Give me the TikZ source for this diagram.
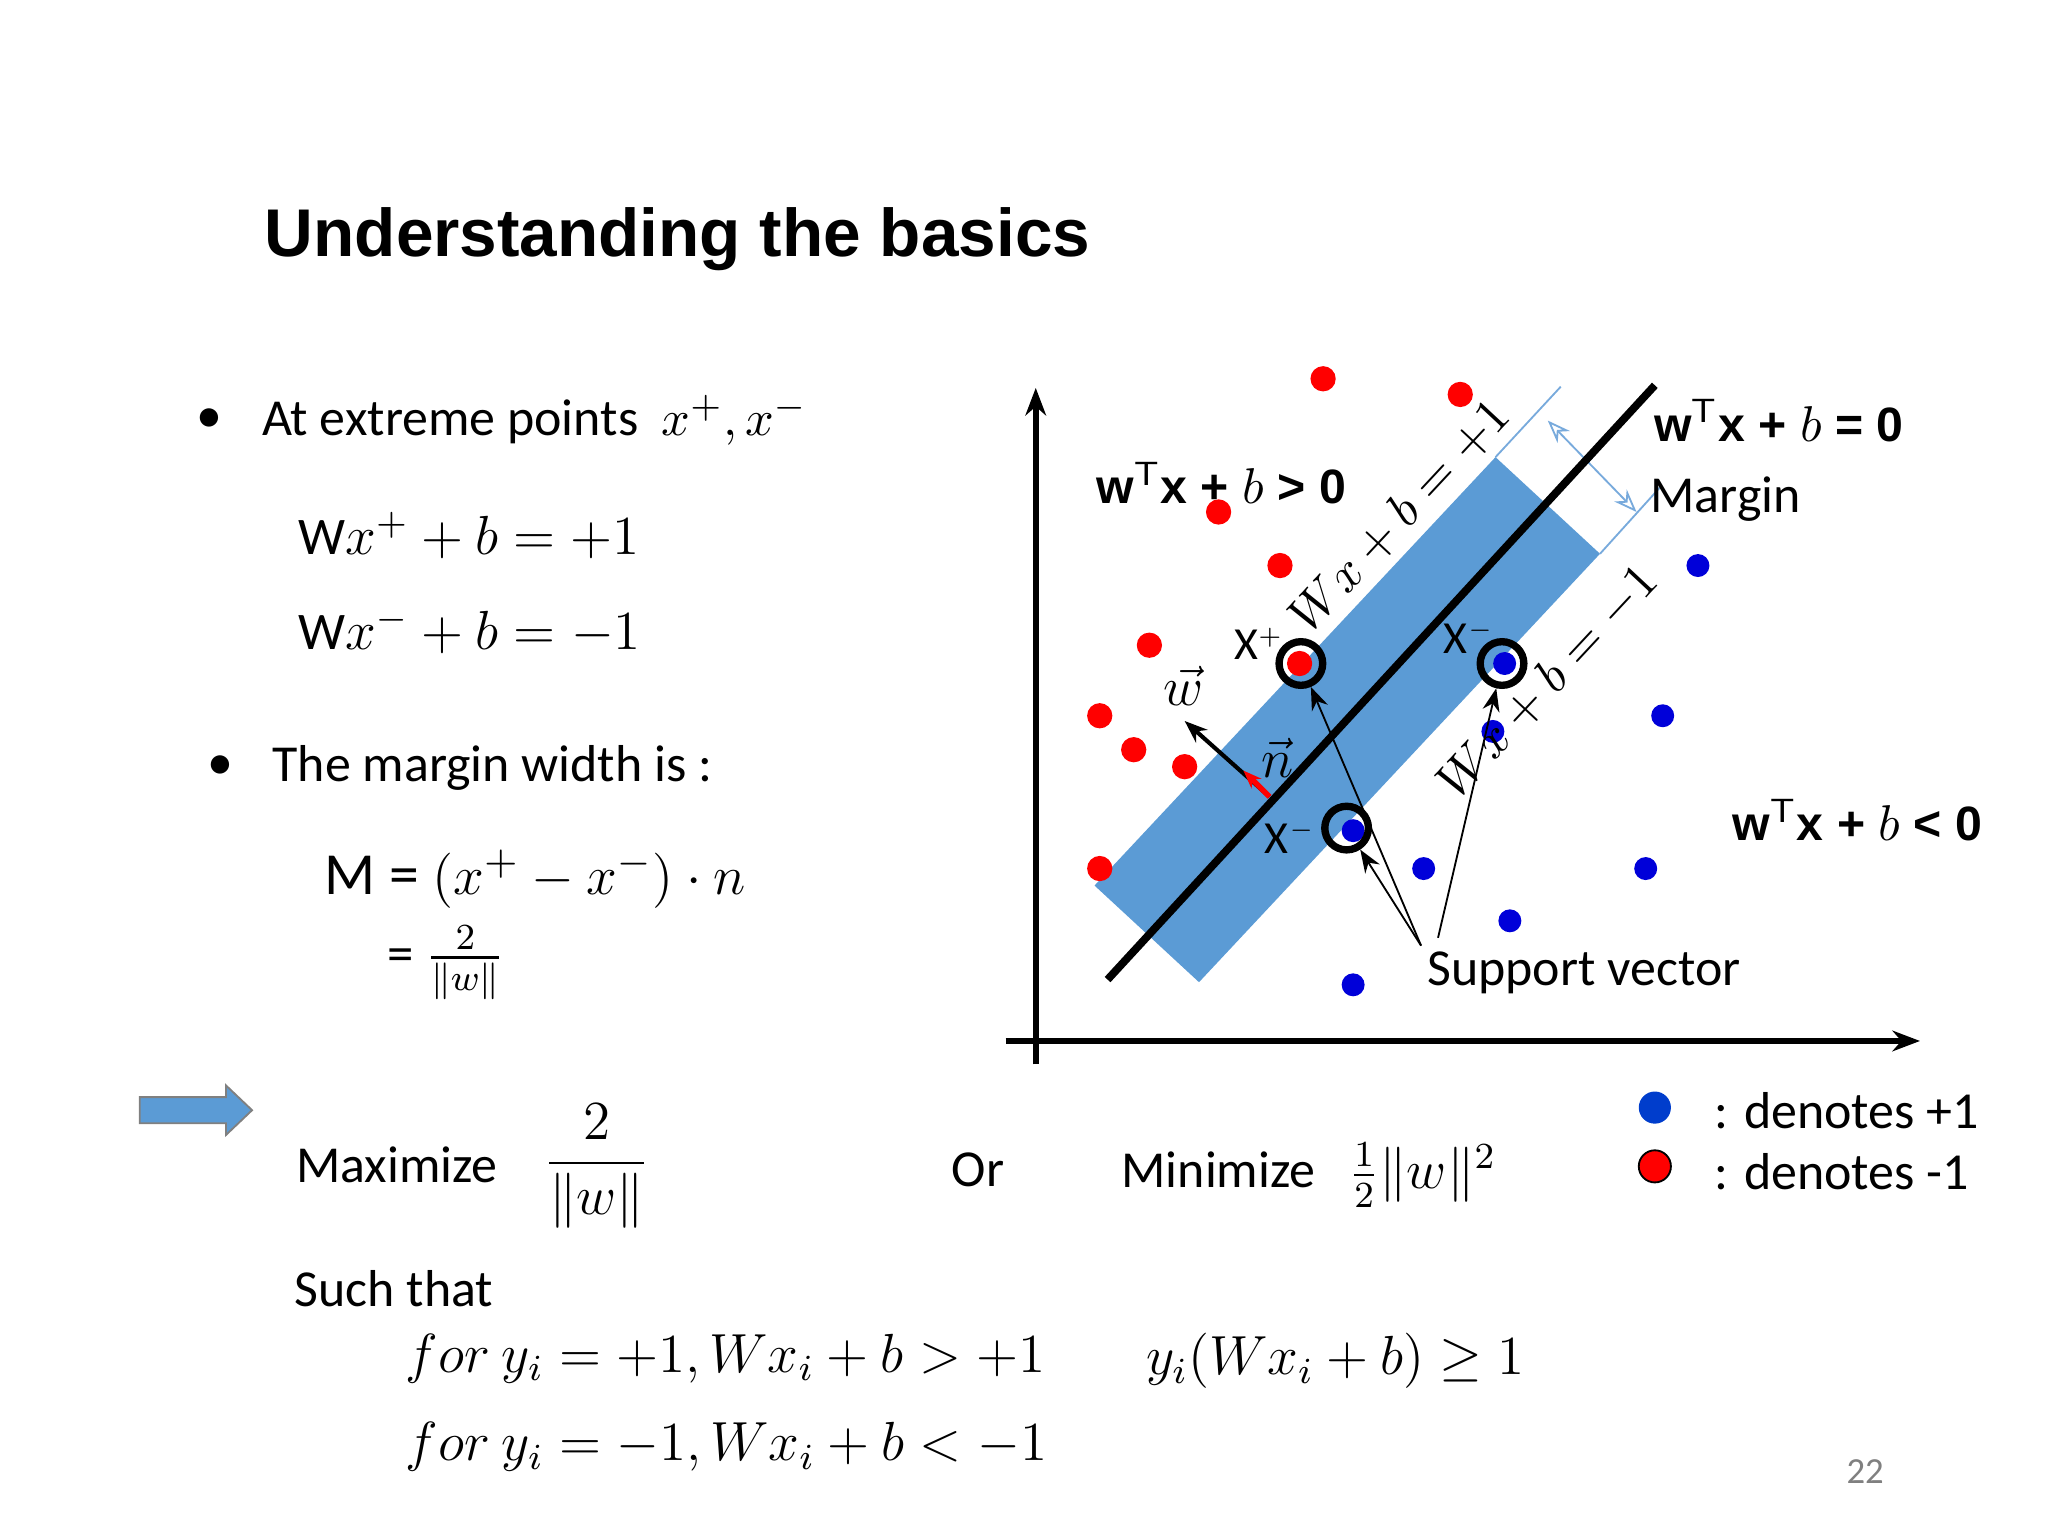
\documentclass[tikz,border=0pt]{standalone}
\usepackage{fontspec}
\usepackage{amsmath}
\setmainfont{Carlito}
\newfontfamily\arialf{Liberation Sans}
\usetikzlibrary{arrows.meta}
\definecolor{band}{RGB}{91,155,213}
\definecolor{bandline}{RGB}{120,170,220}
\tikzset{
 txt/.style={anchor=west,inner sep=0pt,font=\fontsize{11.3}{13}\selectfont},
 mth/.style={anchor=west,inner sep=0pt,font=\fontsize{11.5}{13}\selectfont},
 lbl/.style={inner sep=0pt,font=\arialf\bfseries\fontsize{10.5}{12}\selectfont},
 rdot/.style={circle,fill=red,inner sep=0pt,minimum size=5.5pt},
 bdot/.style={circle,fill=blue!85!black,inner sep=0pt,minimum size=5pt},
 sv/.style={circle,draw,line width=1.6pt,inner sep=0pt,minimum size=9.5pt},
 arr/.style={-{Stealth[length=5pt]},thin},
 xl/.style={inner sep=0pt,font=\fontsize{10}{12}\selectfont}
}
\begin{document}
\begin{tikzpicture}[x=0.01cm,y=-0.01cm]
\useasboundingbox (0,0) rectangle (1568,1176);
\node[anchor=west,inner sep=0pt,font=\arialf\bfseries\fontsize{14.7}{18}\selectfont] (title) at (202,183) {Understanding the basics};
% left column
\node[txt] (b1) at (150,322) {\textbullet};
\node[txt] (t1) at (200,322) {At extreme points\ \ $x^{+},x^{-}$};
\node[mth] (e1) at (228,410) {W$x^{+}+b=+1$};
\node[mth] (e2) at (228,483) {W$x^{-}+b=-1$};
\node[txt] (b2) at (158,588) {\textbullet};
\node[txt] (t2) at (208,588) {The margin width is :};
\node[mth,font=\fontsize{13}{15}\selectfont] (m1) at (248,673) {M = $(x^{+}-x^{-})\cdot n$};
\node[mth] (m2) at (296,737) {= $\tfrac{2}{\|w\|}$};
\coordinate (ba) at (107,850);
\fill[band,draw=black!50] (107,840) -- (173,840) -- (173,831) -- (193,850) -- (173,869) -- (173,860) -- (107,860) -- cycle;
\node[txt] (max) at (226,892) {Maximize};
\node[mth,anchor=center,font=\fontsize{13}{15}\selectfont] (f1) at (457,893) {$\dfrac{2}{\|w\|}$};
\node[txt] (or) at (728,896) {Or};
\node[txt] (min) at (858,896) {Minimize};
\node[mth] (f2) at (1032,900) {$\frac{1}{2}\|w\|^2$};
\node[txt] (st) at (225,987) {Such that};
\node[mth] (c1) at (310,1040) {$for\ y_i=+1, Wx_i+b>+1$};
\node[mth] (c2) at (310,1108) {$for\ y_i=-1, Wx_i+b<-1$};
\node[mth] (c3) at (877,1042) {$y_i(Wx_i+b)\geq 1$};
\node[inner sep=0pt,text=gray,font=\fontsize{8}{10}\selectfont] (pg) at (1428,1127) {22};
% legend
\node[circle,fill=blue!70!cyan!80!black,inner sep=0pt,minimum size=7pt] (lb) at (1267,848) {};
\node[circle,fill=red,draw=black,inner sep=0pt,minimum size=7pt] (lr) at (1267,893) {};
\node[txt] (lt1) at (1312,850) {: denotes +1};
\node[txt] (lt2) at (1312,897) {: denotes -1};
% diagram
\coordinate (yb) at (793,815); \coordinate (yt) at (793,297);
\coordinate (xl) at (770,797); \coordinate (xr) at (1470,797);
\draw[line width=1.3pt,-{Stealth[length=6pt]}] (yb) -- (yt);
\draw[line width=1.3pt,-{Stealth[length=6pt]}] (xl) -- (xr);
\coordinate (c1) at (838,678); \coordinate (c2) at (918,752);
\coordinate (c3) at (1225,424); \coordinate (c4) at (1145,350);
\fill[band] (c1) -- (c2) -- (c3) -- (c4) -- cycle;
\coordinate (t1) at (1195,296); \coordinate (t2) at (1272,372);
\draw[bandline,thin] (c4) -- (t1);
\draw[bandline,thin] (c3) -- (t2);
\draw[bandline,{Stealth[length=5pt,open]}-{Stealth[length=5pt,open]}] (1185,322) -- (1253,392);
\coordinate (h1) at (848,750); \coordinate (h2) at (1267,295);
\draw[line width=1.7pt] (h1) -- (h2);
\foreach \p [count=\i] in {(1013,290),(1118,302),(933,392),(980,433),(880,494),(842,548),(868,574),(907,587),(842,665),(995,508)}
  \node[rdot] (r\i) at \p {};
\foreach \p [count=\i] in {(1300,433),(1273,548),(1152,508),(1143,560),(1036,636),(1090,665),(1260,665),(1156,705),(1036,754)}
  \node[bdot] (bl\i) at \p {};
\node[sv] (s1) at (996,508) {};
\node[sv] (s2) at (1150,508) {};
\node[sv] (s3) at (1031,634) {};
\node[lbl] (L0) at (1362,322) {w$^{\mathsf T}$x + $b$ = 0};
\node[lbl] (L1) at (935,370) {w$^{\mathsf T}$x + $b$ > 0};
\node[lbl] (L2) at (1422,628) {w$^{\mathsf T}$x + $b$ < 0};
\node[txt] (mg) at (1263,382) {Margin};
\node[mth,anchor=center,rotate=47,font=\fontsize{10.5}{12}\selectfont] (p1) at (1072,395) {$Wx+b=+1$};
\node[mth,anchor=center,rotate=47,font=\fontsize{10.5}{12}\selectfont] (p2) at (1185,522) {$Wx+b=-1$};
\node[xl] (xp) at (964,493) {X$^{\scriptscriptstyle +}$};
\node[xl] (xm1) at (1125,488) {X$^{\scriptscriptstyle -}$};
\node[xl] (xm2) at (988,641) {X$^{\scriptscriptstyle -}$};
\coordinate (w0) at (972,610); \coordinate (w1) at (907,552); \coordinate (n1) at (952,590);
\draw[arr,line width=0.9pt] (w0) -- (w1);
\draw[-{Stealth[length=4pt]},red,line width=1.2pt] (w0) -- (n1);
\node[mth,anchor=center] (wl) at (906,525) {$\vec w$};
\node[mth,anchor=center] (nl) at (978,580) {$\vec n$};
\node[txt] (svl) at (1092,745) {Support vector};
\coordinate (sa) at (1088,724); \coordinate (sb) at (1101,718);
\draw[arr] (sa) -- (s1);
\draw[arr] (sa) -- (s3);
\draw[arr] (sb) -- (s2);
\end{tikzpicture}
\end{document}
